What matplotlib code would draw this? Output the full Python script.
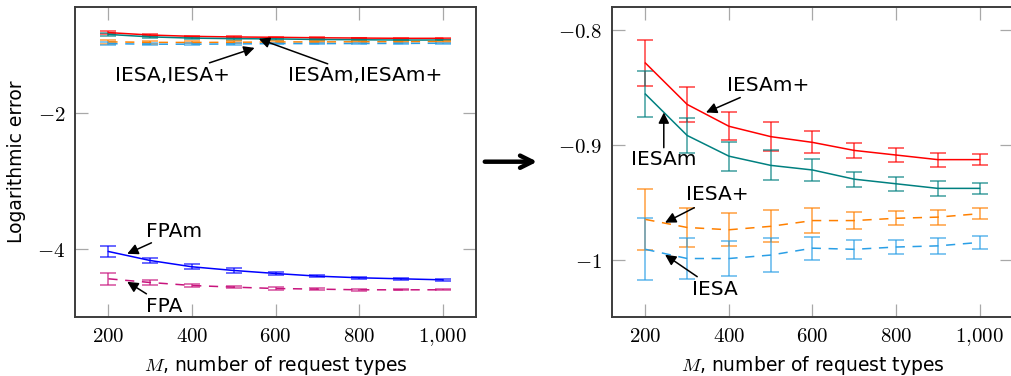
import matplotlib
matplotlib.use("Agg")
import matplotlib.pyplot as plt
from matplotlib.ticker import FixedLocator, FixedFormatter

plt.rcParams['mathtext.fontset'] = 'cm'
plt.rcParams['font.family'] = ['DejaVu Sans']

# ---------------- data ----------------
M = [200, 300, 400, 500, 600, 700, 800, 900, 1000]

iesam_plus = [-0.829, -0.865, -0.884, -0.893, -0.898, -0.905, -0.909, -0.913, -0.913]
iesam_plus_err = [0.020, 0.015, 0.012, 0.0125, 0.0095, 0.0065, 0.006, 0.006, 0.0045]

iesam = [-0.856, -0.892, -0.910, -0.918, -0.922, -0.930, -0.934, -0.938, -0.938]
iesam_err = [0.020, 0.0155, 0.0125, 0.013, 0.0095, 0.0065, 0.006, 0.0065, 0.005]

iesa_plus = [-0.965, -0.972, -0.974, -0.971, -0.966, -0.966, -0.964, -0.963, -0.960]
iesa_plus_err = [0.0265, 0.017, 0.0145, 0.014, 0.0105, 0.0075, 0.006, 0.0065, 0.0045]

iesa = [-0.991, -0.999, -0.999, -0.996, -0.990, -0.991, -0.989, -0.988, -0.985]
iesa_err = [0.027, 0.0175, 0.015, 0.015, 0.010, 0.008, 0.006, 0.007, 0.0055]

fpam = [-4.035, -4.167, -4.259, -4.313, -4.357, -4.396, -4.420, -4.435, -4.450]
fpam_err = [0.074, 0.037, 0.036, 0.030, 0.022, 0.015, 0.015, 0.012, 0.012]

fpa = [-4.435, -4.489, -4.533, -4.557, -4.577, -4.586, -4.596, -4.596, -4.596]
fpa_err = [0.085, 0.032, 0.025, 0.020, 0.015, 0.012, 0.012, 0.010, 0.010]

x_ticks = [200, 400, 600, 800, 1000]
x_ticklabels = ['$200$', '$400$', '$600$', '$800$', '$1{,}000$']
left_yticks = [-4, -2]
left_yticklabels = ['$-4$', '$-2$']
right_yticks = [-1.0, -0.9, -0.8]
right_yticklabels = ['$-1$', '$-0.9$', '$-0.8$']

C_RED = '#ff0000'
C_TEAL = '#008080'
C_ORANGE = '#ff8000'
C_LBLUE = '#2a9fe6'
C_BLUE = '#0000ff'
C_MAG = '#c8147d'

TICK_FS = 15
TXT_FS = 14.5

fig = plt.figure(figsize=(10.12, 3.76), dpi=100)
axL = fig.add_axes([75 / 1012, 1 - 316.7 / 376, 401 / 1012, 310 / 376])
axR = fig.add_axes([612 / 1012, 1 - 316.7 / 376, 401 / 1012, 310 / 376])

DASH = (0, (6, 5))


def series(ax, y, err, color, dashed):
    ax.plot(M, y, color=color, lw=1.1, ls=DASH if dashed else '-', zorder=3)
    ax.errorbar(M, y, yerr=err, fmt='none', ecolor=color, elinewidth=1.1,
                capsize=6, capthick=1.1, alpha=0.75, zorder=2)


for ax in (axL, axR):
    series(ax, iesam_plus, iesam_plus_err, C_RED, False)
    series(ax, iesam, iesam_err, C_TEAL, False)
    series(ax, iesa_plus, iesa_plus_err, C_ORANGE, True)
    series(ax, iesa, iesa_err, C_LBLUE, True)

series(axL, fpam, fpam_err, C_BLUE, False)
series(axL, fpa, fpa_err, C_MAG, True)

axL.set_ylim(-4.99, -0.45)
axR.set_ylim(-1.0496, -0.78)

for ax, yt, ytl in ((axL, left_yticks, left_yticklabels), (axR, right_yticks, right_yticklabels)):
    ax.set_xlim(120, 1080)
    ax.xaxis.set_major_locator(FixedLocator(x_ticks))
    ax.xaxis.set_major_formatter(FixedFormatter(x_ticklabels))
    ax.yaxis.set_major_locator(FixedLocator(yt))
    ax.yaxis.set_major_formatter(FixedFormatter(ytl))
    ax.tick_params(direction='in', length=9.5, width=0.9, color='#a8a8a8',
                   top=True, right=True, labelsize=TICK_FS, pad=7)
    for s in ax.spines.values():
        s.set_color('#3c3c3c')
        s.set_linewidth(1.4)
    ax.set_xlabel(r'$\mathit{M}$, number of request types', fontsize=TXT_FS - 1, labelpad=4)

axL.set_ylabel('Logarithmic error', fontsize=TXT_FS - 1, labelpad=8)

ap = dict(arrowstyle='-|>', color='black', lw=1.1, mutation_scale=16, shrinkA=0, shrinkB=0)


def label(ax, txt, tpos, tail, head):
    ax.text(tpos[0], tpos[1], txt, fontsize=TXT_FS, ha='center', va='center', zorder=5)
    ax.annotate('', xy=head, xytext=tail, arrowprops=ap, zorder=5)


# left annotations
label(axL, 'IESA,IESA+', (353, -1.463), (442, -1.272), (550, -1.053))
label(axL, 'IESAm,IESAm+', (814, -1.463), (725, -1.287), (560, -0.921))
label(axL, 'FPAm', (356, -3.747), (303, -3.908), (245, -4.069))
label(axL, 'FPA', (334, -4.845), (291, -4.655), (245, -4.479))

# right annotations
label(axR, 'IESAm+', (493, -0.8487), (427, -0.859), (345, -0.872))
label(axR, 'IESAm', (244, -0.913), (244, -0.9026), (244, -0.872))
label(axR, 'IESA+', (373, -0.9435), (317, -0.9548), (247, -0.9678))
label(axR, 'IESA', (367, -1.026), (324, -1.0148), (247, -0.9957))

# transition arrow between panels
fig.patches.append(matplotlib.patches.FancyArrowPatch(
    (482 / 1012, 1 - 161.7 / 376), (540 / 1012, 1 - 161.7 / 376),
    transform=fig.transFigure, arrowstyle='->', mutation_scale=22, lw=3.2, color='black'))

fig.savefig('out.png', dpi=100)
